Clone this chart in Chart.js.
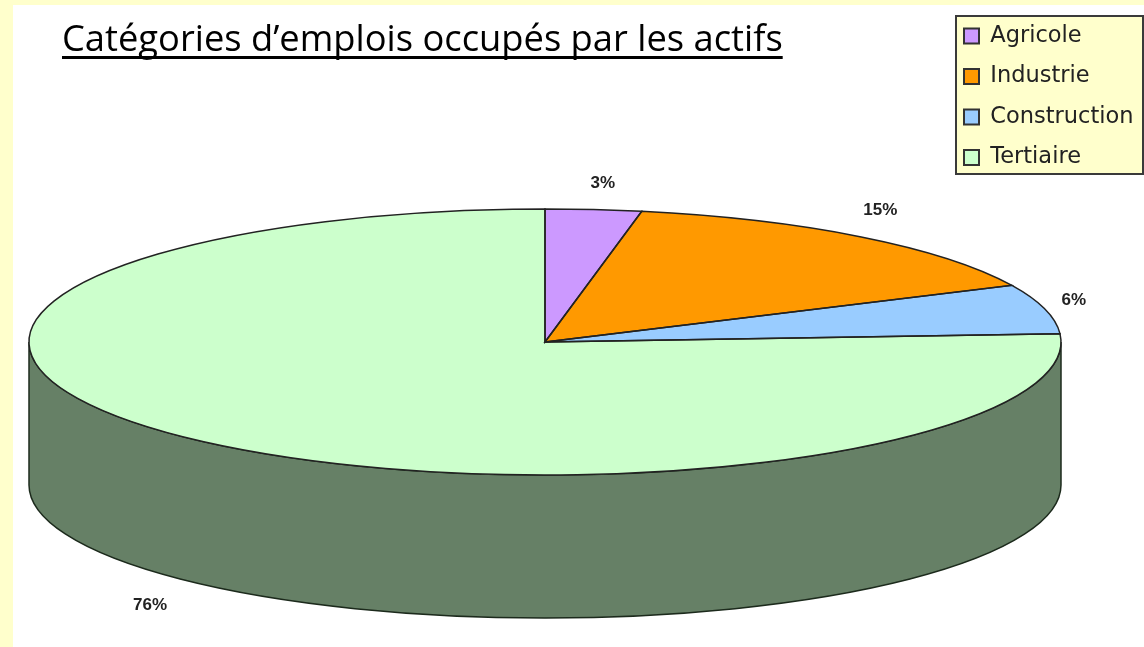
<!DOCTYPE html>
<html lang="fr">
<head>
    <meta charset="UTF-8">
    <title>Catégories d'emplois</title>
    <script src="https://cdn.jsdelivr.net/npm/chart.js"></script>
    <style>
        body { margin: 0; background: #fff; overflow: hidden; }
        canvas { display: block; }
    </style>
</head>
<body>
    <canvas id="chart" width="1144" height="647"></canvas>
    <script>
        const categories = ["Agricole", "Industrie", "Construction", "Tertiaire"];
        const shares = [3, 15, 6, 76];
        const colors = ["#cc99ff", "#ff9900", "#99ccff", "#ccffcc"];
        const sideColors = ["#664d80", "#804d00", "#4d6680", "#668066"];
        const titleText = "Catégories d’emplois occupés par les actifs";

        // Where the flattened pie sits on the page
        const pie = { cx: 545, cy: 342, rx: 516, ry: 133, depth: 143 };
        // How far out each % label sits, as a multiple of the ellipse radius
        const labelReach = [[1.19, 1.2], [1.06, 1.25], [1.058, 1.27], [1.118, 1.24]];

        function arcsOf(chart) {
            return chart.getDatasetMeta(0).data;
        }

        function wedgePath(ctx, start, end) {
            ctx.beginPath();
            ctx.moveTo(pie.cx, pie.cy);
            ctx.ellipse(pie.cx, pie.cy, pie.rx, pie.ry, 0, start, end);
            ctx.closePath();
        }

        const pagePlugin = {
            id: "page",
            // Chart.js lays out title and legend in its own bands, move them where the original has them
            afterLayout(chart) {
                const t = chart.titleBlock;
                t.left = 62; t.right = 900; t.top = 0; t.bottom = 70;
                const l = chart.legend;
                l.left = 946; l.right = 1144; l.top = 6.75; l.bottom = 400;
            },
            beforeDraw(chart) {
                const ctx = chart.ctx;
                ctx.save();
                ctx.fillStyle = "#ffffcc";
                ctx.fillRect(0, 0, 1144, 5);
                ctx.fillRect(0, 0, 13, 647);
                ctx.fillRect(956, 16, 187, 158);
                ctx.strokeStyle = "#3a3a3a";
                ctx.lineWidth = 2;
                ctx.strokeRect(956, 16, 187, 158);
                ctx.restore();
            },
            beforeDatasetsDraw(chart) {
                const ctx = chart.ctx;
                const arcs = arcsOf(chart);
                // side wall, only the front half of each slice shows
                ctx.save();
                arcs.forEach((arc, i) => {
                    const start = Math.max(arc.startAngle, 0);
                    const end = Math.min(arc.endAngle, Math.PI);
                    if (end <= start) return;
                    ctx.beginPath();
                    ctx.ellipse(pie.cx, pie.cy, pie.rx, pie.ry, 0, start, end);
                    ctx.ellipse(pie.cx, pie.cy + pie.depth, pie.rx, pie.ry, 0, end, start, true);
                    ctx.closePath();
                    ctx.fillStyle = sideColors[i];
                    ctx.fill();
                    ctx.strokeStyle = "#1c2a1c";
                    ctx.lineWidth = 1.5;
                    ctx.stroke();
                });
                ctx.restore();
                // squash the circle Chart.js draws into the ellipse
                const a = arcs[0];
                ctx.save();
                ctx.translate(pie.cx, pie.cy);
                ctx.scale(pie.rx / a.outerRadius, pie.ry / a.outerRadius);
                ctx.translate(-a.x, -a.y);
            },
            afterDatasetsDraw(chart) {
                const ctx = chart.ctx;
                ctx.restore();
                ctx.save();
                ctx.strokeStyle = "#222";
                ctx.lineWidth = 1.5;
                arcsOf(chart).forEach(arc => {
                    wedgePath(ctx, arc.startAngle, arc.endAngle);
                    ctx.stroke();
                });
                ctx.restore();
            },
            afterDraw(chart) {
                const ctx = chart.ctx;
                ctx.save();
                // title underline
                ctx.font = chart.options.plugins.title.font.size + "px " + chart.options.plugins.title.font.family;
                const w = ctx.measureText(titleText).width;
                ctx.fillStyle = "#000";
                ctx.fillRect(62, 56, w, 3);
                // percent labels
                ctx.font = "bold 17px 'Liberation Sans'";
                ctx.fillStyle = "#222";
                ctx.textAlign = "center";
                ctx.textBaseline = "middle";
                arcsOf(chart).forEach((arc, i) => {
                    const mid = (arc.startAngle + arc.endAngle) / 2;
                    const wall = Math.sin(mid) > 0 ? pie.depth : 0;
                    const x = pie.cx + Math.cos(mid) * pie.rx * labelReach[i][0];
                    const y = pie.cy + wall + Math.sin(mid) * pie.ry * labelReach[i][1];
                    ctx.fillText(shares[i] + "%", x, y);
                });
                ctx.restore();
            }
        };

        new Chart(document.getElementById("chart"), {
            type: "pie",
            data: {
                labels: categories,
                datasets: [{
                    data: shares,
                    backgroundColor: colors,
                    borderWidth: 0,
                    clip: false
                }]
            },
            options: {
                responsive: false,
                animation: false,
                events: [],
                plugins: {
                    tooltip: { enabled: false },
                    title: {
                        display: true,
                        text: titleText,
                        align: "start",
                        color: "#000",
                        padding: { top: 19, bottom: 0 },
                        font: { family: "'Open Sans'", size: 36.3, weight: "normal" }
                    },
                    legend: {
                        position: "right",
                        align: "start",
                        labels: {
                            boxWidth: 15,
                            boxHeight: 15,
                            padding: 18,
                            color: "#222",
                            font: { family: "'DejaVu Sans'", size: 22.5 },
                            generateLabels(chart) {
                                return Chart.overrides.pie.plugins.legend.labels.generateLabels(chart).map(item => {
                                    item.strokeStyle = "#333";
                                    item.lineWidth = 2;
                                    return item;
                                });
                            }
                        }
                    }
                }
            },
            plugins: [pagePlugin]
        });
    </script>
</body>
</html>
